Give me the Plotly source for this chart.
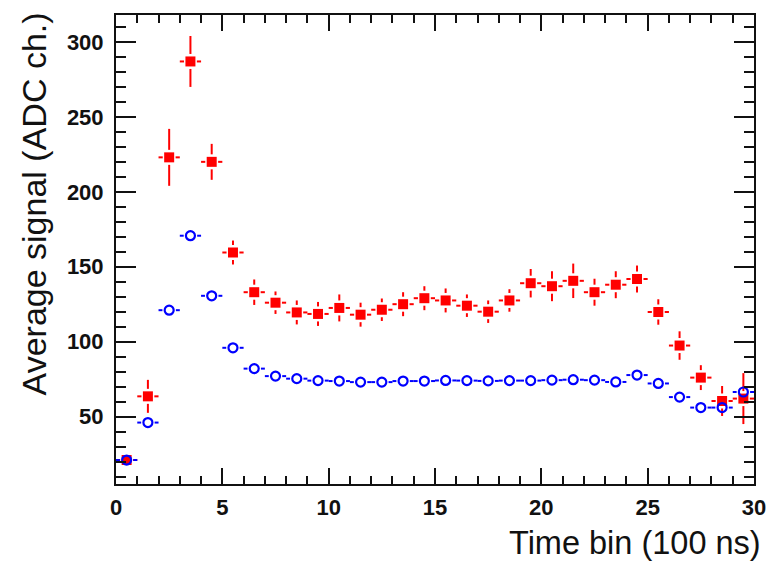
import plotly.graph_objects as go

# Time bins (centres, units of 100 ns) and per-bin average signals
bin_centres = [i + 0.5 for i in range(30)]
bin_half_width = 0.5

signal_a = [21, 63.5, 223, 287, 220, 159.5, 133, 126, 119.5, 118.5,
            122.5, 118, 121.3, 125, 129, 127.5, 124, 120, 127.5, 139,
            137, 140.6, 133, 138, 141.8, 119.8, 97.4, 76, 60.4, 62]
signal_a_err = [2, 11, 19, 17, 12, 8, 8.5, 7.5, 8, 8,
                9, 8, 7.5, 8, 8, 8, 7.5, 7.5, 7.5, 9.5,
                10, 11.5, 9, 9, 9, 8.5, 9.5, 8.3, 10, 17]

signal_b = [21, 46, 121, 170.7, 130.6, 95.9, 82, 77, 75.3, 74,
            73.7, 73, 73, 73.7, 73.7, 74.1, 74, 73.8, 74, 74,
            74.3, 74.6, 74.3, 73.1, 77.7, 72.1, 63, 56, 56, 66.4]
signal_b_err = [1, 2, 3, 3, 3, 2.5, 2, 2, 2, 2,
                2, 2, 2, 2, 2, 2, 2, 2, 2, 2,
                2, 2, 2, 2, 2.5, 2.5, 2.5, 2.5, 3, 3.5]

X_RANGE = [0, 30]
Y_RANGE = [5, 318]

W, H = 778, 561
M = dict(l=116, r=17, t=15, b=77)
plot_w = W - M["l"] - M["r"]
plot_h = H - M["t"] - M["b"]
px_per_x = plot_w / (X_RANGE[1] - X_RANGE[0])
px_per_y = plot_h / (Y_RANGE[1] - Y_RANGE[0])


def error_segments(xs, ys, errs, gap_x_px, gap_y_px):
    """ROOT-style error bars: lines stop short of the marker."""
    gx = gap_x_px / px_per_x
    gy = gap_y_px / px_per_y
    sx, sy = [], []
    for x, y, e in zip(xs, ys, errs):
        sx += [x - bin_half_width, x - gx, None, x + gx, x + bin_half_width, None]
        sy += [y, y, None, y, y, None]
        if e > gy:
            sx += [x, x, None, x, x, None]
            sy += [y + gy, y + e, None, y - gy, y - e, None]
    return sx, sy


RED = "#ff0000"
BLUE = "#0000ff"
INK = "#111111"

fig = go.Figure()

ax, ay = error_segments(bin_centres, signal_a, signal_a_err, 6.5, 7.5)
fig.add_trace(go.Scatter(x=ax, y=ay, mode="lines", line=dict(color=RED, width=2),
                         hoverinfo="skip", showlegend=False))
fig.add_trace(go.Scatter(x=bin_centres, y=signal_a, mode="markers",
                         marker=dict(symbol="square", size=10, color=RED,
                                     line=dict(width=0)),
                         showlegend=False))

bx, by = error_segments(bin_centres, signal_b, signal_b_err, 6.8, 6.8)
fig.add_trace(go.Scatter(x=bx, y=by, mode="lines", line=dict(color=BLUE, width=2),
                         hoverinfo="skip", showlegend=False))
fig.add_trace(go.Scatter(x=bin_centres, y=signal_b, mode="markers",
                         marker=dict(symbol="circle-open", size=9, color=BLUE,
                                     line=dict(width=2.2, color=BLUE)),
                         showlegend=False))

tick_font = dict(family="Liberation Sans, Arial, sans-serif", size=22, color=INK,
                 weight="bold")
title_font = dict(family="Liberation Sans, Arial, sans-serif", size=32, color=INK)

common = dict(showgrid=False, zeroline=False, showline=True, linecolor=INK,
              linewidth=2, mirror="allticks", ticks="inside", tickcolor=INK,
              tickwidth=2, tickfont=tick_font)

fig.update_xaxes(range=X_RANGE, tick0=0, dtick=5, ticklen=16,
                 minor=dict(dtick=1, ticks="inside", ticklen=8, tickwidth=2,
                            tickcolor=INK),
                 ticklabelstandoff=3, **common)
fig.update_yaxes(range=Y_RANGE, tick0=0, dtick=50, ticklen=20,
                 minor=dict(dtick=10, ticks="inside", ticklen=10, tickwidth=2,
                            tickcolor=INK),
                 ticklabelstandoff=6, **common)

fig.add_annotation(text="Time bin (100 ns)", xref="paper", yref="paper",
                   x=1.0, y=-(543 - (H - M["b"])) / plot_h, xshift=9,
                   xanchor="right", yanchor="middle", showarrow=False,
                   font=dict(title_font, size=32.5))
fig.add_annotation(text="Average signal (ADC ch.)", xref="paper", yref="paper",
                   x=(33 - M["l"]) / plot_w, y=1.0 + 5 / plot_h,
                   xanchor="center", yanchor="top", textangle=-90, showarrow=False,
                   font=dict(title_font, size=34))

fig.update_layout(width=W, height=H, margin=M, plot_bgcolor="white",
                  paper_bgcolor="white", showlegend=False)

fig.write_html("out.html")
